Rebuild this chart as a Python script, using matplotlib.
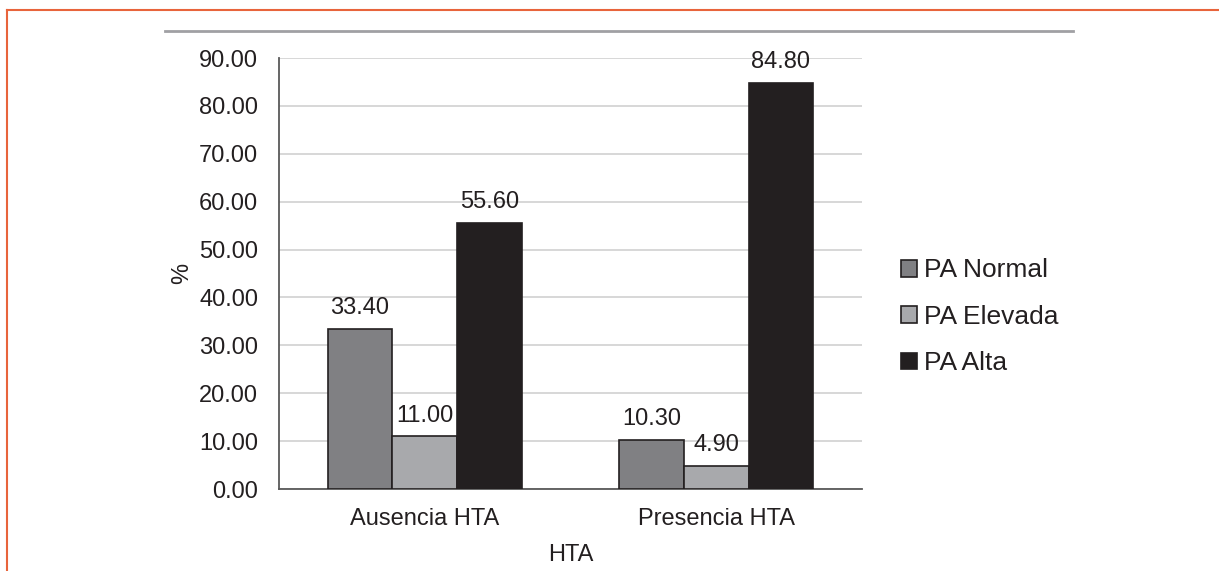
import matplotlib.pyplot as plt
from matplotlib.lines import Line2D
from matplotlib.patches import Patch
import numpy as np

categories = ['Ausencia HTA', 'Presencia HTA']
series_names = ['PA Normal', 'PA Elevada', 'PA Alta']
pa_normal = [33.40, 10.30]
pa_elevada = [11.00, 4.90]
pa_alta = [55.60, 84.80]
y_ticks = [0, 10, 20, 30, 40, 50, 60, 70, 80, 90]

colors = ['#808083', '#a8a9ac', '#231f20']
text_color = '#231f20'

plt.rcParams['font.family'] = ['Liberation Sans', 'DejaVu Sans']

fig = plt.figure(figsize=(12.19, 5.71), dpi=100)
ax = fig.add_axes([0.2289, 0.1436, 0.7071 - 0.2289, 0.8984 - 0.1436])

x = np.arange(len(categories))
width = 0.222
for i, (name, vals) in enumerate(zip(series_names, [pa_normal, pa_elevada, pa_alta])):
    pos = x + (i - 1) * width
    ax.bar(pos, vals, width, color=colors[i], edgecolor='#231f20', linewidth=1.2,
           label=name, zorder=3)
    for xp, v in zip(pos, vals):
        ax.annotate(f'{v:.2f}', (xp, v), xytext=(0, 7), textcoords='offset points',
                    ha='center', va='bottom', fontsize=17, color=text_color, zorder=4)

ax.set_xlim(-0.5, 1.5)
ax.set_ylim(0, 90)
ax.set_yticks(y_ticks)
ax.set_yticklabels([f'{t:.2f}' for t in y_ticks])
ax.set_xticks(x)
ax.set_xticklabels(categories)
ax.tick_params(axis='both', length=0, labelsize=17, colors=text_color)
ax.tick_params(axis='y', pad=15)
ax.tick_params(axis='x', pad=14)
ax.grid(axis='y', color='#d4d4d4', linewidth=1.3, zorder=0)

for side in ['top', 'right']:
    ax.spines[side].set_visible(False)
for side in ['left', 'bottom']:
    ax.spines[side].set_color('#595959')
    ax.spines[side].set_linewidth(1.3)

ax.set_ylabel('%', fontsize=17, color=text_color, labelpad=4)
ax.set_xlabel('HTA', fontsize=17, color=text_color, labelpad=10)

handles = [Patch(facecolor=c, edgecolor='#231f20', linewidth=1.2) for c in colors]
fig.legend(handles, series_names, loc='center left', bbox_to_anchor=(0.72, 0.445),
           frameon=False, fontsize=19, handlelength=0.6, handleheight=0.6,
           handletextpad=0.25, labelspacing=0.85, labelcolor=text_color)

# page frame and rule above the chart
fig.add_artist(Line2D([0.0058, 0.0058], [0, 0.983], color='#e8643c', linewidth=1.5))
fig.add_artist(Line2D([0.0058, 1.0], [0.983, 0.983], color='#e8643c', linewidth=1.5))
fig.add_artist(Line2D([0.1354, 0.880], [0.946, 0.946], color='#a0a0a4', linewidth=2))

fig.savefig('out.png', dpi=100)
